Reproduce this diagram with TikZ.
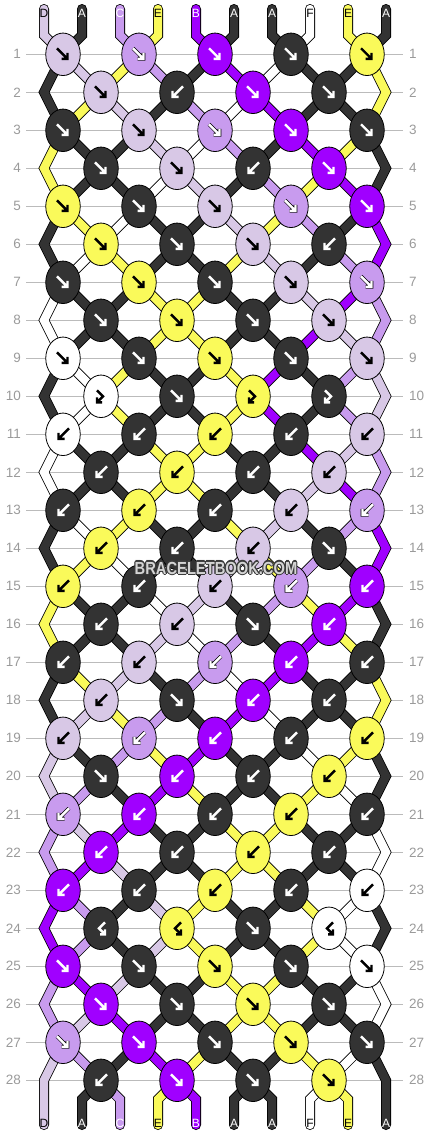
\documentclass[tikz,border=0pt]{standalone}
\usepackage{fontspec}
\setmainfont{Liberation Sans}
\usetikzlibrary{shapes.geometric}
\pgfdeclarelayer{knots}
\pgfdeclarelayer{front}
\pgfsetlayers{main,knots,front}

\definecolor{strA}{HTML}{333333}
\definecolor{strB}{HTML}{A000FF}
\definecolor{strC}{HTML}{C89BEE}
\definecolor{strD}{HTML}{D8C8E6}
\definecolor{strE}{HTML}{FAFA5A}
\definecolor{strF}{HTML}{FFFFFF}
\colorlet{tipA}{white}
\colorlet{tipB}{white}
\colorlet{tipC}{white}
\colorlet{tipD}{black}
\colorlet{tipE}{black}
\colorlet{tipF}{black}
\definecolor{rowgray}{HTML}{9A9A9A}
\definecolor{guidegray}{HTML}{BBBBBB}
\definecolor{wmdark}{HTML}{3A3A3A}
\definecolor{wmlight}{HTML}{D4D4D4}

% arrow shapes inside a knot: f forward, b backward, F forward-backward, B backward-forward
\def\shapef{(-6,-6) -- (4.5,4.5) (-1.5,4.5) -- (4.5,4.5) -- (4.5,-1.5)}
\def\shapeb{(6,-6) -- (-4.5,4.5) (1.5,4.5) -- (-4.5,4.5) -- (-4.5,-1.5)}
\def\shapeF{(-4,-6) -- (2,0) -- (-4,6) (1,6) -- (-4,6) -- (-4,1)}
\def\shapeB{(4,-6) -- (-2,0) -- (4,6) (-1,6) -- (4,6) -- (4,1)}

\tikzset{
  strand/.style={line width=0.8pt, draw=black, double=str#1, double distance=8.4pt, line cap=round, line join=miter},
  knotnode/.style={ellipse, draw=black, line width=0.8pt, fill=str#1, minimum width=34.5pt, minimum height=42.5pt, inner sep=0pt},
  knotarrow/.style={line width=2.4pt, draw=tip#1, line join=miter},
  knotarrowline/.style={line width=3.7pt, draw=black, line join=miter},
  guide/.style={draw=guidegray, line width=1pt},
  rownum/.style={text=rowgray, font=\fontsize{13.5}{14}\selectfont, inner sep=0pt},
  strlabel/.style={text=tip#1, font=\fontsize{12}{12}\selectfont, inner sep=0pt},
  wmark/.style={font=\fontsize{17.5}{17.5}\selectfont\bfseries, xscale=0.84, inner sep=0pt},
}

\begin{document}
\begin{tikzpicture}[x=1pt,y=-1pt]
\useasboundingbox (0,0) rectangle (430,1136);

% row lines and numbers
\foreach \row in {1,...,28}{
  \pgfmathsetmacro\yr{16.3+38*\row}
  \draw[guide] (26,\yr) -- (403,\yr);
  \node[rownum, anchor=east] (numL\row) at (21,\yr) {\row};
  \node[rownum, anchor=west] (numR\row) at (409,\yr) {\row};
}

% strings at the top
\foreach \sname [count=\idx from 0] in {D,A,C,E,B,A,A,F,E,A}{
  \pgfmathsetmacro\xs{44+38*\idx}
  \expandafter\xdef\csname str\idx\endcsname{\sname}
  \expandafter\xdef\csname way\idx\endcsname{(\xs,9) -- (\xs,35.3)}
  \begin{pgfonlayer}{front}
    \node[strlabel=\sname] (top\idx) at (\xs,13) {\sname};
  \end{pgfonlayer}
}

% knots, row by row
\foreach \types [count=\row] in {{f,f,f,f,f},{f,b,f,f},{f,f,f,f,f},{f,f,b,f},
    {f,f,f,f,f},{f,f,f,b},{f,f,f,f,f},{f,f,f,f},{f,f,f,f,f},{F,f,F,F},
    {b,b,b,b,b},{b,b,b,b},{b,b,b,b,b},{b,b,b,f},{b,b,b,b,b},{b,b,f,b},
    {b,b,b,b,b},{b,f,b,b},{b,b,b,b,b},{f,b,b,b},{b,b,b,b,b},{b,b,b,b},
    {b,b,b,b,b},{B,B,f,B},{f,f,f,f,f},{f,f,f,f},{f,f,f,f,f},{b,f,f,f}}{
  \pgfmathsetmacro\yr{16.3+38*\row}
  \pgfmathtruncatemacro\odd{mod(\row,2)}
  \foreach \kt [count=\kn from 0] in \types {
    \pgfmathtruncatemacro\lft{2*\kn+1-\odd}
    \pgfmathtruncatemacro\rgt{\lft+1}
    \pgfmathsetmacro\kx{63+38*\lft}
    \edef\colL{\csname str\lft\endcsname}
    \edef\colR{\csname str\rgt\endcsname}
    \edef\kc{\if f\kt\colL\else\if F\kt\colL\else\colR\fi\fi}
    \edef\tmp{\noexpand\draw[strand=\colL] \csname way\lft\endcsname -- (\kx,\yr);
      \noexpand\draw[strand=\colR] \csname way\rgt\endcsname -- (\kx,\yr);}
    \tmp
    \expandafter\xdef\csname way\lft\endcsname{(\kx,\yr)}
    \expandafter\xdef\csname way\rgt\endcsname{(\kx,\yr)}
    \if f\kt \expandafter\xdef\csname str\lft\endcsname{\colR}\expandafter\xdef\csname str\rgt\endcsname{\colL}\fi
    \if b\kt \expandafter\xdef\csname str\lft\endcsname{\colR}\expandafter\xdef\csname str\rgt\endcsname{\colL}\fi
    \begin{pgfonlayer}{knots}
      \edef\tmp{\noexpand\node[knotnode=\kc] (k\row-\kn) at (\kx,\yr) {};
        \if C\kc\noexpand\draw[knotarrowline, shift={(\kx,\yr)}] \csname shape\kt\endcsname;\fi
        \noexpand\draw[knotarrow=\kc, shift={(\kx,\yr)}] \csname shape\kt\endcsname;}
      \tmp
    \end{pgfonlayer}
  }
  \ifnum\odd=0
    \expandafter\xdef\csname way0\endcsname{\csname way0\endcsname -- (44,\yr)}
    \expandafter\xdef\csname way9\endcsname{\csname way9\endcsname -- (386,\yr)}
  \fi
}

% strings at the bottom
\foreach \idx in {0,...,9}{
  \pgfmathsetmacro\xs{44+38*\idx}
  \edef\sname{\csname str\idx\endcsname}
  \edef\tmp{\noexpand\draw[strand=\sname] \csname way\idx\endcsname -- (\xs,1099.3) -- (\xs,1125);}
  \tmp
  \begin{pgfonlayer}{front}
    \node[strlabel=\sname] (bot\idx) at (\xs,1123) {\sname};
  \end{pgfonlayer}
}

% watermark
\begin{pgfonlayer}{front}
  \foreach \dx/\dy [count=\w] in {1.2/0,-1.2/0,0/1.2,0/-1.2,.85/.85,-.85/.85,.85/-.85,-.85/-.85}
    \node[wmark, text=wmdark] (wmo\w) at (216+\dx,568+\dy) {BRACELETBOOK.COM};
  \node[wmark, text=wmlight] (wm) at (216,568) {BRACELETBOOK.COM};
\end{pgfonlayer}
\end{tikzpicture}
\end{document}
